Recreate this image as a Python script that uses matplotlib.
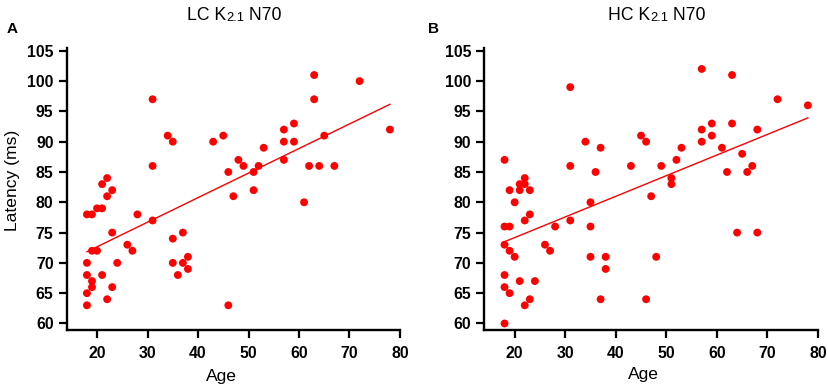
#!/usr/bin/env python
# latency_vs_age.py

import numpy as np
import matplotlib
matplotlib.use("Agg")
import matplotlib.pyplot as plt

############################
# DATA
############################
lc_age = [18, 19, 18, 18, 18, 18, 19, 20, 19, 19, 20, 21, 21, 22, 22, 23, 23, 24, 21, 23,
          22, 26, 27, 28, 31, 31, 31, 34, 35, 35, 35, 36, 37, 37, 38, 38, 43, 45, 46, 47,
          46, 48, 49, 51, 51, 52, 53, 57, 57, 57, 59, 59, 61, 62, 63, 63, 64, 65, 67, 72, 78]
lc_latency = [78, 78, 70, 68, 65, 63, 72, 72, 67, 66, 79, 79, 83, 84, 81, 82, 75, 70, 68, 66,
              64, 73, 72, 78, 97, 86, 77, 91, 90, 74, 70, 68, 75, 70, 71, 69, 90, 91, 85, 81,
              63, 87, 86, 85, 82, 86, 89, 87, 90, 92, 93, 90, 80, 86, 101, 97, 86, 91, 86, 100, 92]

hc_age = [18, 18, 19, 18, 18, 18, 18, 19, 19, 19, 20, 20, 21, 21, 21, 22, 22, 22, 22, 23,
          23, 23, 24, 26, 27, 28, 31, 31, 31, 34, 35, 35, 35, 36, 37, 37, 38, 38, 43, 45,
          46, 46, 47, 48, 49, 51, 51, 52, 53, 57, 57, 57, 59, 59, 61, 62, 63, 63, 64, 65,
          66, 67, 68, 68, 72, 78]
hc_latency = [87, 76, 76, 73, 68, 66, 60, 82, 72, 65, 80, 71, 83, 82, 67, 84, 83, 77, 63, 82,
              78, 64, 67, 73, 72, 76, 99, 86, 77, 90, 80, 76, 71, 85, 89, 64, 71, 69, 86, 91,
              90, 64, 81, 71, 86, 84, 83, 87, 89, 102, 92, 90, 93, 91, 89, 85, 101, 93, 75, 88,
              85, 86, 92, 75, 97, 96]

x_ticks = [20, 30, 40, 50, 60, 70, 80]
y_ticks = [60, 65, 70, 75, 80, 85, 90, 95, 100, 105]

RED = "#ff0000"
FONT = "Liberation Sans"

plt.rcParams["font.family"] = [FONT, "DejaVu Sans"]


def draw_panel(ax, ages, lat):
    """scatter + least squares line, styled like the paper figure"""
    ages = np.asarray(ages, dtype=float)
    lat = np.asarray(lat, dtype=float)
    ax.scatter(ages, lat, s=32, color=RED, edgecolors="none", zorder=3, clip_on=False)

    slope, icpt = np.polyfit(ages, lat, 1)
    xs = np.array([ages.min(), ages.max()])
    ax.plot(xs, slope * xs + icpt, color=RED, lw=1.0, zorder=2)

    ax.set_xlim(14, 80)
    ax.set_ylim(59, 105.4)
    ax.set_xticks(x_ticks)
    ax.set_yticks(y_ticks)
    for side in ["top", "right"]:
        ax.spines[side].set_visible(False)
    for side in ["left", "bottom"]:
        ax.spines[side].set_linewidth(1.7)
    ax.tick_params(axis="both", direction="out", length=5.5, width=1.6, labelsize=11.4)
    ax.tick_params(axis="y", pad=4)
    ax.tick_params(axis="x", pad=6)
    for lbl in ax.get_xticklabels() + ax.get_yticklabels():
        lbl.set_fontweight("bold")


def chained_title(fig, ax, x, y, parts):
    """title where the '2.1' is set in a smaller size"""
    prev = fig.text(x, y, parts[0][0], fontsize=parts[0][1], va="baseline", ha="left")
    for txt, size in parts[1:]:
        prev = ax.annotate(txt, xy=(1, 0), xycoords=prev, fontsize=size,
                           va="bottom", ha="left", annotation_clip=False)
    return prev


fig = plt.figure(figsize=(8.29, 3.90), dpi=100)
ax_a = fig.add_axes([0.0805, 0.155, 0.402, 0.721])
ax_b = fig.add_axes([0.5842, 0.155, 0.4025, 0.721])

draw_panel(ax_a, lc_age, lc_latency)
draw_panel(ax_b, hc_age, hc_latency)

# titles
chained_title(fig, ax_a, 187 / 829, 1 - 20 / 390, [("LC K", 12.7), ("2.1", 9.4), (" N70", 12.7)])
chained_title(fig, ax_b, 608 / 829, 1 - 20 / 390, [("HC K", 12.7), ("2.1", 9.4), (" N70", 12.7)])

# panel letters
fig.text(7 / 829, 1 - 33 / 390, "A", fontsize=11, fontweight="bold", va="baseline")
fig.text(428 / 829, 1 - 33 / 390, "B", fontsize=11, fontweight="bold", va="baseline")

# axis labels
fig.text(221 / 829, 1 - 380.5 / 390, "Age", fontsize=12.6, ha="center", va="baseline")
fig.text(643.5 / 829, 1 - 379.5 / 390, "Age", fontsize=12.6, ha="center", va="baseline")
fig.text(13 / 829, 1 - 180 / 390, "Latency (ms)", fontsize=12.6, rotation=90,
         ha="center", va="center")

fig.savefig("out.png", dpi=100)
